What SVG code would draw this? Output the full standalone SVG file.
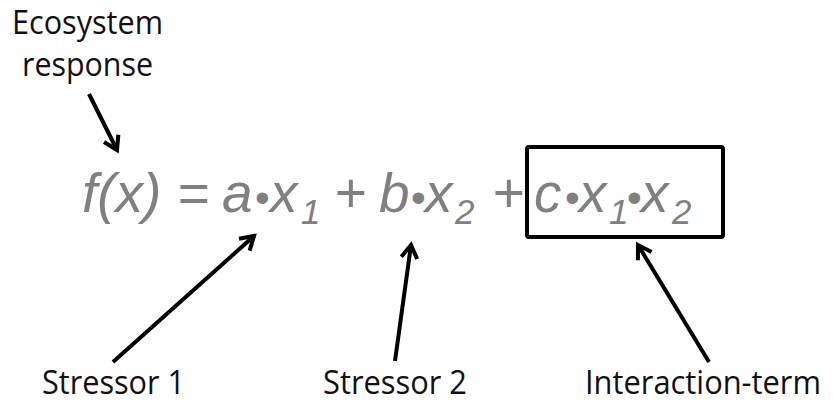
<svg xmlns="http://www.w3.org/2000/svg" width="833" height="407" viewBox="0 0 833 407">
<style>
.lbl{font-family:"Open Sans","Liberation Sans",sans-serif;font-size:33px;fill:#111}
.eq{font-family:"Liberation Sans",Arial,sans-serif;font-style:italic;font-size:55px;fill:#808080}
.sub{font-family:"Liberation Sans",Arial,sans-serif;font-style:italic;font-size:35px;fill:#808080}
.dot{font-family:"Liberation Sans",Arial,sans-serif;font-size:42px;fill:#808080}
.arr{stroke:#000;stroke-width:4;fill:none;marker-end:url(#ah)}
</style>
<defs>
<marker id="ah" viewBox="-18 -12 22 24" markerWidth="22" markerHeight="24" refX="0" refY="0" orient="auto" markerUnits="userSpaceOnUse">
<path d="M-13,-8 L0,0 L-13,8" stroke="#000" stroke-width="4" fill="none"/>
</marker>
</defs>
<g id="ecosystem-response">
<text class="lbl" x="12" y="34" textLength="151" lengthAdjust="spacingAndGlyphs">Ecosystem</text>
<text class="lbl" x="22" y="76" textLength="131" lengthAdjust="spacingAndGlyphs">response</text>
</g>
<g id="formula">
<text class="eq" x="82" y="212">f(x)</text>
<text class="eq" x="177" y="212">=</text>
<text class="eq" x="222" y="212">a</text>
<text class="dot" x="255" y="212">•</text>
<text class="eq" x="270" y="212">x</text>
<text class="sub" x="301" y="224">1</text>
<text class="eq" x="334" y="212">+</text>
<text class="eq" x="379" y="212">b</text>
<text class="dot" x="411" y="212">•</text>
<text class="eq" x="425" y="212">x</text>
<text class="sub" x="455" y="224">2</text>
<text class="eq" x="492" y="212">+</text>
</g>
<g id="interaction-box">
<rect x="527" y="147" width="196" height="90" rx="2" fill="none" stroke="#000" stroke-width="4"/>
<text class="eq" x="534" y="212">c</text>
<text class="dot" x="565" y="212">•</text>
<text class="eq" x="579" y="212">x</text>
<text class="sub" x="609" y="224">1</text>
<text class="dot" x="627" y="212">•</text>
<text class="eq" x="641" y="212">x</text>
<text class="sub" x="672" y="224">2</text>
</g>
<g id="stressor-1"><text class="lbl" x="42" y="394" textLength="143" lengthAdjust="spacingAndGlyphs">Stressor 1</text></g>
<g id="stressor-2"><text class="lbl" x="323" y="394" textLength="144" lengthAdjust="spacingAndGlyphs">Stressor 2</text></g>
<g id="interaction-term"><text class="lbl" x="585" y="394" textLength="236" lengthAdjust="spacingAndGlyphs">Interaction-term</text></g>
<g id="connectors">
<line class="arr" x1="89" y1="94" x2="117" y2="150"/>
<line class="arr" x1="113" y1="362" x2="254" y2="236"/>
<line class="arr" x1="395" y1="361" x2="411" y2="245"/>
<line class="arr" x1="709" y1="362" x2="638" y2="245"/>
</g>
</svg>
